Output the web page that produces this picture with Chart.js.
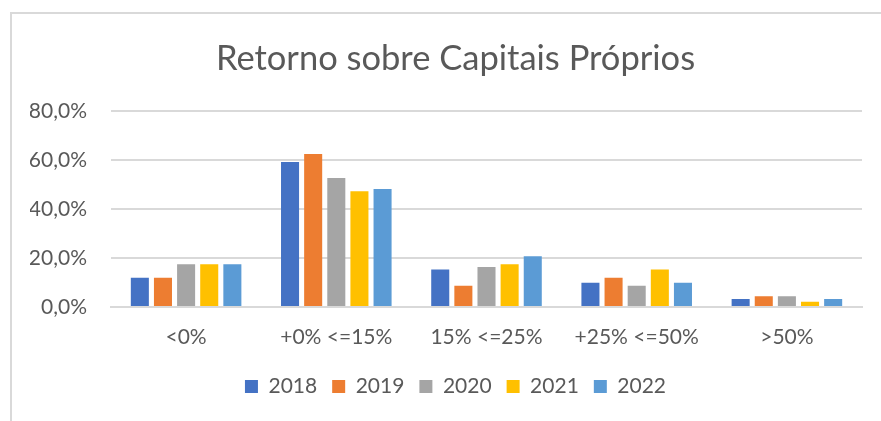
<!DOCTYPE html>
<html>
<head>
<meta charset="utf-8">
<script src="https://cdn.jsdelivr.net/npm/chart.js@4"></script>
<style>
  body { margin: 0; background: #fff; }
  #frame { position: absolute; left: 10px; top: 12px; width: 880px; height: 420px;
           border-left: 2px solid #d9d9d9; border-top: 2px solid #d9d9d9; }
  #wrap { position: absolute; left: 0; top: 0; width: 881px; height: 421px; }
</style>
</head>
<body>
<div id="frame"></div>
<div id="wrap"><canvas id="roe"></canvas></div>
<script>
// categories and values (%)
const categories = ['<0%', '+0% <=15%', '15% <=25%', '+25% <=50%', '>50%'];
const years = ['2018', '2019', '2020', '2021', '2022'];
const v2018 = [12.0, 59.3, 15.3, 9.9, 3.3];
const v2019 = [12.0, 62.6, 8.7, 12.0, 4.4];
const v2020 = [17.5, 52.8, 16.4, 8.7, 4.4];
const v2021 = [17.5, 47.3, 17.5, 15.3, 2.1];
const v2022 = [17.5, 48.3, 20.8, 9.9, 3.3];
const colors = ['#4472C4', '#ED7D31', '#A5A5A5', '#FFC000', '#5B9BD5'];

const series = [v2018, v2019, v2020, v2021, v2022];
const txt = '#595959';
const font = 'Lato, "Open Sans", sans-serif';

new Chart(document.getElementById('roe'), {
  type: 'bar',
  data: {
    labels: categories,
    datasets: series.map((vals, i) => ({
      label: years[i],
      data: vals,
      backgroundColor: colors[i],
      borderWidth: 0,
      categoryPercentage: 0.77,
      barPercentage: 0.78
    }))
  },
  options: {
    responsive: true,
    maintainAspectRatio: false,
    animation: false,
    // left padding shifts the title centre to match the framed box
    layout: { padding: { left: 30, right: 0, top: 0, bottom: 14 } },
    plugins: {
      title: {
        display: true,
        text: 'Retorno sobre Capitais Próprios',
        color: txt,
        font: { family: font, size: 34.5, weight: 'normal' },
        padding: { top: 38, bottom: 32 }
      },
      legend: {
        position: 'bottom',
        labels: {
          color: txt,
          font: { family: font, size: 21 },
          boxWidth: 13,
          boxHeight: 13,
          padding: 15
        }
      },
      tooltip: { enabled: false }
    },
    scales: {
      x: {
        grid: { display: false },
        border: { display: true, color: '#d9d9d9', width: 2 },
        ticks: { color: txt, font: { family: font, size: 21 }, padding: 10 },
        afterFit: (s) => { s.height = 54; }
      },
      y: {
        min: 0,
        max: 80,
        ticks: {
          stepSize: 20,
          color: txt,
          font: { family: font, size: 21 },
          padding: 24,
          callback: (v) => v.toFixed(1).replace('.', ',') + '%'
        },
        grid: { color: '#d9d9d9', lineWidth: 2, drawTicks: false },
        border: { display: false },
        afterFit: (s) => { s.width = 81; }
      },
      // empty spacer on the right so the plot stops short of the edge
      yR: {
        position: 'right',
        min: 0,
        max: 80,
        grid: { display: false },
        border: { display: false },
        ticks: { display: false },
        afterFit: (s) => { s.width = 19; }
      }
    }
  }
});
</script>
</body>
</html>
